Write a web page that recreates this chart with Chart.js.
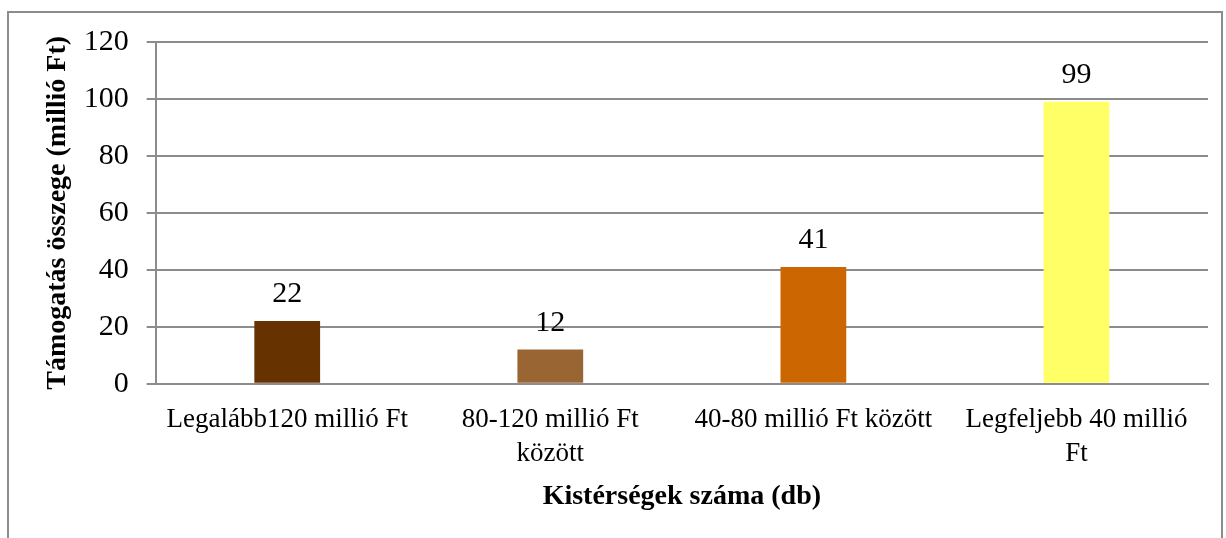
<!DOCTYPE html>
<html>
<head>
  <title>Chart</title>
  <script src="https://cdn.jsdelivr.net/npm/chart.js"></script>
  <style>
    body { margin: 0; background: #fff; }
    #wrap { width: 1226px; height: 538px; }
  </style>
</head>
<body>
  <div id="wrap"><canvas id="chart"></canvas></div>
  <script>
    const categories = [
      'Legalább120 millió Ft',
      ['80-120 millió Ft', 'között'],
      '40-80 millió Ft között',
      ['Legfeljebb 40 millió', 'Ft']
    ];
    const values = [22, 12, 41, 99];
    const barColors = ['#663300', '#996633', '#CC6600', '#FFFF66'];
    const yTicks = [0, 20, 40, 60, 80, 100, 120];

    const serif = "'Liberation Serif', 'DejaVu Serif', serif";

    // outer frame + value labels
    const extras = {
      id: 'extras',
      beforeDraw(chart) {
        const c = chart.ctx;
        c.save();
        c.fillStyle = '#fff';
        c.fillRect(0, 0, chart.width, chart.height);
        c.strokeStyle = '#8c8c8c';
        c.lineWidth = 2;
        c.strokeRect(8, 12, 1214, 600);
        c.restore();
      },
      afterDatasetsDraw(chart) {
        const c = chart.ctx;
        const meta = chart.getDatasetMeta(0);
        c.save();
        c.font = '30px ' + serif;
        c.fillStyle = '#000';
        c.textAlign = 'center';
        c.textBaseline = 'alphabetic';
        meta.data.forEach((bar, i) => {
          c.fillText(values[i], bar.x, bar.y - 19);
        });
        c.restore();
      }
    };

    const ctx = document.getElementById('chart').getContext('2d');
    new Chart(ctx, {
      type: 'bar',
      data: {
        labels: categories,
        datasets: [{
          data: values,
          backgroundColor: barColors,
          barPercentage: 0.25,
          categoryPercentage: 1
        }]
      },
      options: {
        responsive: true,
        maintainAspectRatio: false,
        animation: false,
        devicePixelRatio: 1,
        layout: { padding: { left: 50, right: 18, top: 42, bottom: 36 } },
        plugins: { legend: { display: false }, tooltip: { enabled: false } },
        scales: {
          x: {
            grid: { display: false },
            border: { display: true, color: '#8c8c8c', width: 2 },
            ticks: { color: '#000', font: { family: serif, size: 27, lineHeight: 1.26 }, padding: 11, maxRotation: 0, autoSkip: false },
            title: { display: true, text: 'Kistérségek száma (db)', color: '#000',
                     font: { family: serif, size: 28, weight: 'bold', lineHeight: 0.4 }, padding: { top: 9, bottom: 0 } }
          },
          y: {
            min: 0, max: 120,
            afterBuildTicks(axis) { axis.ticks = yTicks.map(v => ({ value: v })); },
            grid: { color: '#8c8c8c', lineWidth: 2, tickLength: 9 },
            border: { display: true, color: '#8c8c8c', width: 2 },
            ticks: { color: '#000', font: { family: serif, size: 30 }, padding: 18 },
            title: { display: true, text: 'Támogatás összege (millió Ft)', color: '#000',
                     font: { family: serif, size: 28, weight: 'bold', lineHeight: 0.56 }, padding: 0 }
          }
        }
      },
      plugins: [extras]
    });
  </script>
</body>
</html>
